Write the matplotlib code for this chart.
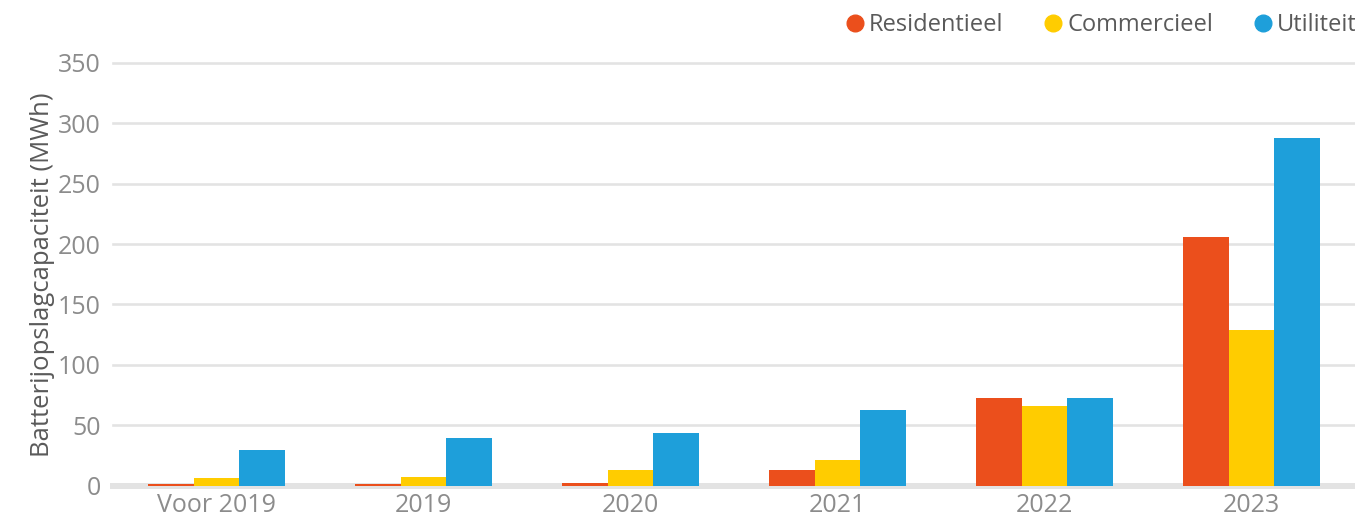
import matplotlib
matplotlib.use("Agg")
import matplotlib.pyplot as plt
from matplotlib.lines import Line2D
import numpy as np

plt.rcParams['font.family'] = ['Open Sans', 'DejaVu Sans']

categories = ['Voor 2019', '2019', '2020', '2021', '2022', '2023']
series = ['Residentieel', 'Commercieel', 'Utiliteit']
residentieel = [1, 1, 2.5, 13, 73, 206]
commercieel = [6.5, 7.5, 13, 21.5, 66, 129]
utiliteit = [29.5, 39.5, 44, 63, 73, 288]
colors = ['#EB4F1C', '#FFCC00', '#1E9FDA']

fig = plt.figure(figsize=(13.55, 5.19), dpi=100)
ax = fig.add_axes([0.0834, 0.0642, 0.9166, 0.8146])

x = np.arange(len(categories))
w = 0.222
for i, (vals, c) in enumerate(zip([residentieel, commercieel, utiliteit], colors)):
    ax.bar(x + (i - 1) * w, vals, width=w, color=c, zorder=3, linewidth=0)

yticks = np.arange(0, 351, 50)
for yv in yticks[1:]:
    ax.axhline(yv, color='#e3e3e3', lw=1.9, zorder=1, clip_on=False)
ax.axhline(0, color='#e3e3e3', lw=4.3, zorder=2, clip_on=False)

ax.set_xlim(-0.5, len(categories) - 0.5)
ax.set_ylim(0, 350)
ax.set_yticks(yticks)
ax.set_xticks(x)
ax.set_xticklabels(categories)
ax.tick_params(axis='both', length=0, labelsize=18, labelcolor='#8c8c8c')
ax.tick_params(axis='y', pad=9)
ax.tick_params(axis='x', pad=5)
for s in ax.spines.values():
    s.set_visible(False)
ax.set_ylabel('Batterijopslagcapaciteit (MWh)', fontsize=18.5, color='#5a5a5a', labelpad=2)

handles = [Line2D([], [], marker='o', ls='', color=c, markersize=12) for c in colors]
fig.legend(handles, series, loc='upper right', bbox_to_anchor=(1.017, 1.015), ncol=3,
           frameon=False, fontsize=17, handlelength=0.7, handletextpad=0.25,
           columnspacing=1.75, labelcolor='#5a5a5a')

fig.savefig('out.png', dpi=100)
